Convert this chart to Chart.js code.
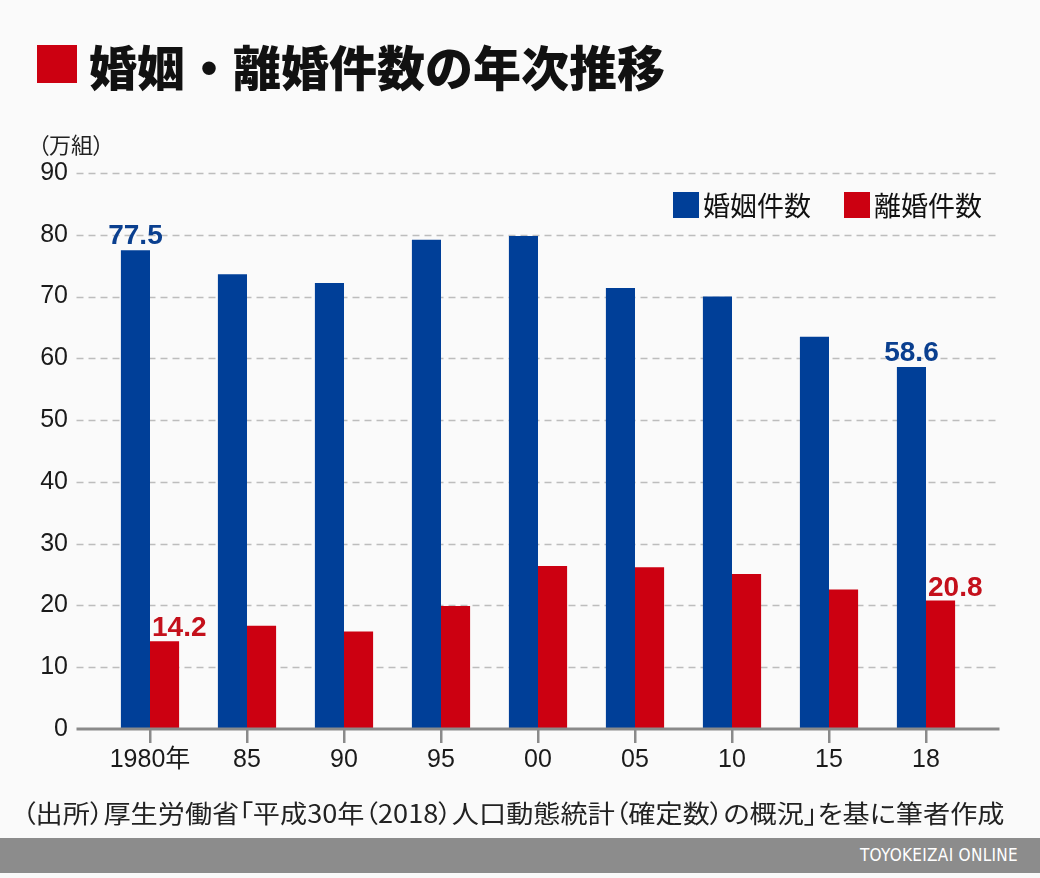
<!DOCTYPE html>
<html>
<head>
<meta charset="utf-8">
<script src="https://cdn.jsdelivr.net/npm/chart.js@4.4.1/dist/chart.umd.min.js"></script>
<style>
  body { margin: 0; background: #fafafa; }
  #wrap { position: relative; width: 1040px; height: 878px; overflow: hidden; background: #fafafa; }
  #chart { position: absolute; left: 0; top: 0; }
  .mark { position: absolute; left: 37px; top: 45px; width: 40px; height: 38px; background: #cc0011; }
  .title { position: absolute; left: 89px; top: 30px; font: 900 48px "Noto Sans CJK JP", sans-serif; color: #111; white-space: nowrap; }
  .unit { position: absolute; left: 38px; top: 127px; font: 22px "Noto Sans CJK JP", sans-serif; color: #222; white-space: nowrap; font-feature-settings: "palt"; }
  .source { position: absolute; left: 22px; top: 794px; font: 25px "Noto Sans CJK JP", sans-serif; color: #222; white-space: nowrap; transform-origin: 0 0; font-feature-settings: "palt"; }
  .footer { position: absolute; left: 0; top: 838px; width: 1040px; height: 35px; background: #8c8c8c; }
  .footer span { position: absolute; right: 22px; top: 7px; font: 17px "Liberation Sans Narrow", "DejaVu Sans Condensed", sans-serif; color: #fff; letter-spacing: 0.3px; }
</style>
</head>
<body>
<div id="wrap">
  <canvas id="chart" width="1040" height="878"></canvas>
  <div class="mark"></div>
  <div class="title">婚姻・離婚件数の年次推移</div>
  <div class="unit">（万組）</div>
  <div class="source" id="source">（出所）厚生労働省「平成30年（2018）人口動態統計（確定数）の概況」を基に筆者作成</div>
  <div class="footer"><span>TOYOKEIZAI ONLINE</span></div>
</div>
<script>
const years = ['1980年', '85', '90', '95', '00', '05', '10', '15', '18'];
const marriages = [77.5, 73.6, 72.2, 79.2, 79.8, 71.4, 70.0, 63.5, 58.6];
const divorces = [14.2, 16.7, 15.8, 19.9, 26.4, 26.2, 25.1, 22.6, 20.8];
const seriesNames = ['婚姻件数', '離婚件数'];
const labelledPoints = [0, 8];  // only first and last bars get value labels

const BLUE = '#003f98';
const RED = '#cc0011';
const LATIN = '"Liberation Sans", "Noto Sans CJK JP", sans-serif';

// fit the source line to the reference width
const src = document.getElementById('source');
src.style.transform = 'scaleX(' + (983 / src.scrollWidth) + ')';

// dashed grid lines and base line, a bit wider than the plot area
const gridPlugin = {
    id: 'gridLines',
    beforeDatasetsDraw(chart) {
        const ctx = chart.ctx;
        const y = chart.scales.y;
        const left = chart.chartArea.left - 25;
        const right = chart.chartArea.right + 25;
        ctx.save();
        y.ticks.forEach(t => {
            if (t.value === 0) return;
            const py = Math.round(y.getPixelForValue(t.value)) + 0.5;
            ctx.strokeStyle = '#bdbdbd';
            ctx.lineWidth = 1.5;
            ctx.setLineDash([7, 5]);
            ctx.beginPath();
            ctx.moveTo(left, py);
            ctx.lineTo(right, py);
            ctx.stroke();
        });
        ctx.restore();
    },
    afterDatasetsDraw(chart) {
        const ctx = chart.ctx;
        const py = chart.scales.y.getPixelForValue(0);
        ctx.save();
        ctx.strokeStyle = '#8a8a8a';
        ctx.lineWidth = 3;
        ctx.beginPath();
        ctx.moveTo(chart.chartArea.left - 25, py);
        ctx.lineTo(chart.chartArea.right + 25, py);
        ctx.stroke();
        ctx.restore();
    }
};

const valueLabels = {
    id: 'valueLabels',
    afterDatasetsDraw(chart) {
        const ctx = chart.ctx;
        ctx.save();
        ctx.font = 'bold 28px ' + LATIN;
        ctx.textBaseline = 'alphabetic';
        chart.data.datasets.forEach((ds, di) => {
            const meta = chart.getDatasetMeta(di);
            labelledPoints.forEach(i => {
                const bar = meta.data[i];
                ctx.fillStyle = di === 0 ? '#0a3f8f' : '#c4101b';
                if (di === 0) {
                    ctx.textAlign = 'center';
                    ctx.fillText(ds.data[i].toFixed(1), bar.x, bar.y - 6);
                } else {
                    ctx.textAlign = 'left';
                    ctx.fillText(ds.data[i].toFixed(1), bar.x - bar.width / 2 + 2, bar.y - 5);
                }
            });
        });
        ctx.restore();
    }
};

const legendPlugin = {
    id: 'boxLegend',
    afterDraw(chart) {
        const ctx = chart.ctx;
        const starts = [673, 844];
        ctx.save();
        ctx.font = '27px "Noto Sans CJK JP", sans-serif';
        ctx.textBaseline = 'middle';
        ctx.textAlign = 'left';
        chart.data.datasets.forEach((ds, di) => {
            ctx.fillStyle = ds.backgroundColor;
            ctx.fillRect(starts[di], 192, 26, 26);
            ctx.fillStyle = '#111';
            ctx.fillText(ds.label, starts[di] + 30, 206);
        });
        ctx.restore();
    }
};

new Chart(document.getElementById('chart'), {
    type: 'bar',
    data: {
        labels: years,
        datasets: [
            { label: seriesNames[0], data: marriages, backgroundColor: BLUE },
            { label: seriesNames[1], data: divorces, backgroundColor: RED }
        ]
    },
    options: {
        responsive: false,
        animation: false,
        layout: { padding: { left: 11.5, right: 65.5, top: 173, bottom: 99 } },
        datasets: {
            bar: { categoryPercentage: 0.6, barPercentage: 1.0 }
        },
        scales: {
            x: {
                grid: {
                    offset: false,
                    drawOnChartArea: false,
                    drawTicks: true,
                    tickLength: 14,
                    color: '#8a8a8a',
                    lineWidth: 2.5
                },
                border: { display: false },
                ticks: {
                    color: '#1a1a1a',
                    font: { family: LATIN, size: 25 },
                    padding: 2,
                    maxRotation: 0
                },
                afterFit: s => { s.height = 50; }
            },
            y: {
                min: 0,
                max: 90,
                grid: { display: false, drawTicks: false },
                border: { display: false },
                ticks: {
                    stepSize: 10,
                    color: '#1a1a1a',
                    font: { family: LATIN, size: 25 },
                    padding: 33.5
                },
                afterFit: s => { s.width = 90; }
            }
        },
        plugins: {
            legend: { display: false },
            tooltip: { enabled: false }
        }
    },
    plugins: [gridPlugin, valueLabels, legendPlugin]
});
</script>
</body>
</html>
